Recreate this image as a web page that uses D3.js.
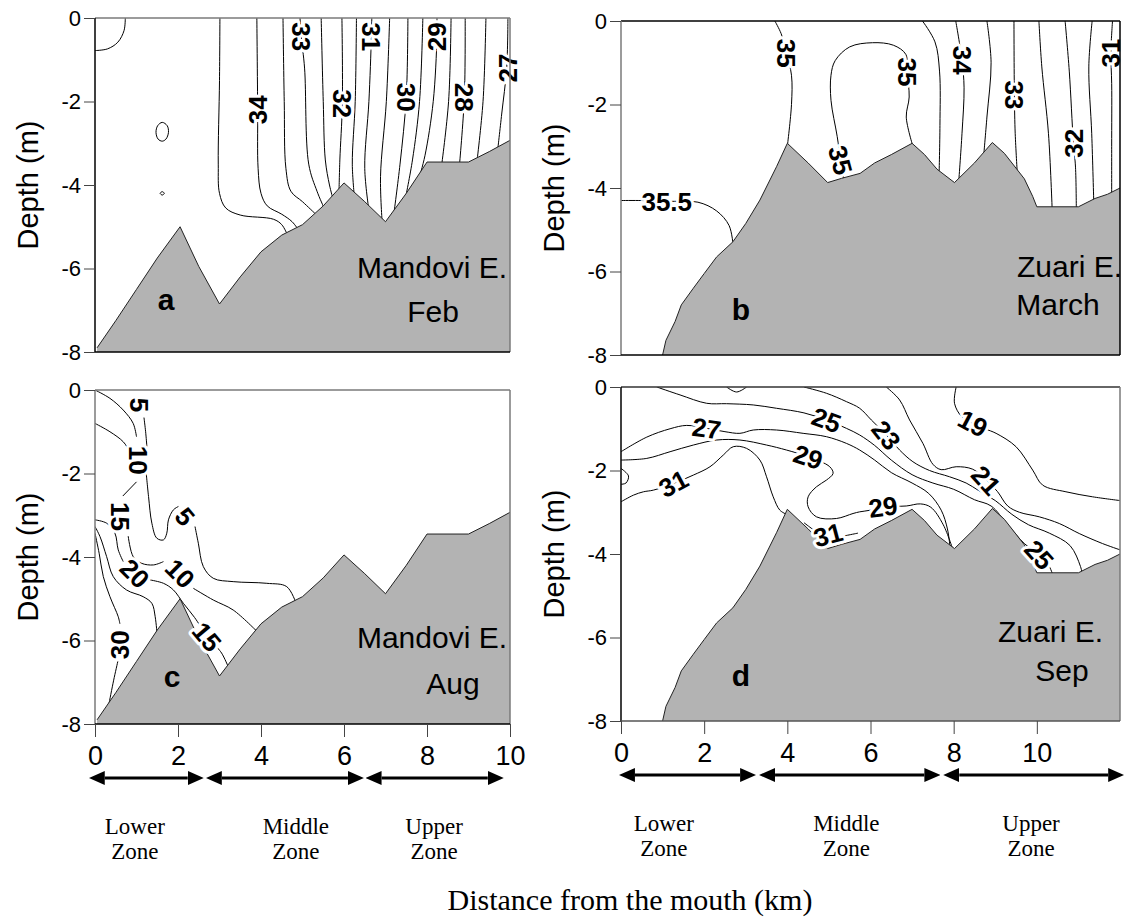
<!DOCTYPE html>
<html>
<head>
<meta charset="utf-8">
<script src="https://cdn.jsdelivr.net/npm/d3@7"></script>
<style>
  body { margin: 0; background: #fff; }
  svg { display: block; }
</style>
</head>
<body>
<svg width="1130" height="922"></svg>
<script>
// bottom profiles, [km from mouth, depth m]
var mandoviBed = [[0.05,-7.9],[0.5,-7.25],[1.0,-6.5],[1.5,-5.75],[2.05,-5.0],[2.5,-5.95],[3.0,-6.85],[3.5,-6.2],[4.0,-5.6],[4.5,-5.2],[5.0,-4.95],[5.5,-4.5],[6.0,-3.95],[6.5,-4.4],[7.0,-4.88],[7.5,-4.2],[8.0,-3.45],[9.0,-3.45],[9.5,-3.2],[10,-2.93]];
var zuariBed = [[1.0,-8],[1.08,-7.65],[1.3,-7.2],[1.45,-6.8],[1.74,-6.4],[2.0,-6.05],[2.3,-5.65],[2.69,-5.29],[3.0,-4.85],[3.34,-4.29],[3.74,-3.49],[4.0,-2.93],[4.5,-3.4],[4.97,-3.87],[5.3,-3.77],[5.75,-3.65],[6.1,-3.4],[6.5,-3.2],[7.0,-2.93],[7.3,-3.2],[7.6,-3.55],[8.02,-3.87],[8.5,-3.4],[8.93,-2.91],[9.22,-3.17],[9.7,-3.78],[9.9,-4.2],[10.0,-4.45],[11.0,-4.45],[11.4,-4.25],[11.7,-4.15],[12,-4.0]];

// isohalines
var febLines = [
  [[0.73,0],[0.7,-0.3],[0.55,-0.58],[0.3,-0.74],[0,-0.78]],
  [[3.01,0],[3.0,-1.5],[2.97,-3.5],[3.0,-4.2],[3.15,-4.55],[3.5,-4.72],[4.3,-4.82],[4.5,-4.95],[4.64,-5.2]],
  [[3.9,0],[3.92,-2.2],[3.93,-3.6],[4.0,-4.2],[4.15,-4.5],[4.5,-4.7],[4.75,-4.88],[4.92,-5.1]],
  [[4.53,0],[4.56,-2],[4.6,-3.6],[4.72,-4.15],[5.0,-4.4],[5.32,-4.7]],
  [[4.94,0],[4.97,-0.45],[5.05,-1.2],[5.15,-3.5],[5.35,-4.15],[5.52,-4.55]],
  [[5.45,0],[5.5,-2],[5.55,-3.4],[5.65,-4.0],[5.74,-4.35]],
  [[5.95,0],[5.96,-2.05],[5.9,-3.4],[5.88,-4.15]],
  [[6.3,0],[6.27,-2],[6.2,-3.5],[6.25,-4.28]],
  [[6.67,0],[6.66,-0.45],[6.6,-2],[6.5,-3.6],[6.6,-4.6]],
  [[7.1,0],[7.02,-2],[6.88,-3.8],[6.92,-4.9]],
  [[7.54,0],[7.5,-1.9],[7.35,-3.5],[7.2,-4.7]],
  [[7.9,0],[7.82,-2],[7.65,-3.4],[7.48,-4.32]],
  [[8.24,0],[8.24,-0.45],[8.15,-2],[7.95,-3.3],[7.8,-3.87]],
  [[8.58,0],[8.52,-2],[8.35,-3.55]],
  [[8.92,0],[8.9,-1.9],[8.78,-3.55]],
  [[9.42,0],[9.35,-2],[9.2,-3.47]],
  [[9.95,0],[9.92,-1.2],[9.8,-2.3],[9.7,-3.19]]
];
var febLoops = [
  [[1.62,-2.5],[1.74,-2.58],[1.77,-2.74],[1.71,-2.9],[1.62,-2.95],[1.52,-2.9],[1.47,-2.74],[1.51,-2.58]],
  [[1.57,-4.2],[1.62,-4.16],[1.67,-4.2],[1.62,-4.24]]
];
var febLabels = [["34",3.92,-2.2,-90],["33",4.97,-0.45,90],["32",5.96,-2.05,90],["31",6.66,-0.45,90],["30",7.5,-1.9,90],["29",8.24,-0.45,-90],["28",8.9,-1.9,90],["27",9.95,-1.2,-90]];

var marchLines = [
  [[3.7,0],[3.85,-0.3],[3.98,-0.77],[4.1,-1.3],[4.1,-2.0],[4.0,-3.0]],
  [[5.37,-3.9],[5.28,-3.33],[5.2,-2.77],[5.05,-1.9],[5.05,-1.3],[5.15,-0.95],[5.5,-0.62],[6.05,-0.52],[6.55,-0.58],[6.85,-0.8],[6.88,-1.22],[6.93,-1.82],[6.86,-2.3],[7.02,-3.0]],
  [[0,-4.3],[0.5,-4.3],[1.1,-4.32],[1.85,-4.34],[2.3,-4.55],[2.6,-4.9],[2.7,-5.4]],
  [[7.25,0],[7.55,-0.5],[7.66,-1.2],[7.67,-2.5],[7.65,-3.65]],
  [[8.05,0],[8.2,-0.94],[8.25,-1.6],[8.2,-2.7],[8.12,-3.87]],
  [[8.8,0],[8.9,-1.0],[8.8,-2.3],[8.72,-3.25]],
  [[9.45,0],[9.46,-1.77],[9.48,-2.7],[9.53,-3.65]],
  [[10.05,0],[10.12,-1.1],[10.28,-2.7],[10.37,-4.55]],
  [[10.68,0],[10.78,-1.2],[10.88,-2.93],[10.93,-3.5],[10.95,-4.55]],
  [[11.33,0],[11.25,-1.1],[11.32,-2.7],[11.37,-4.37]],
  [[11.82,0],[11.78,-0.77],[11.8,-1.5],[11.8,-3.0],[11.8,-4.23]]
];
var marchLabels = [["35",3.98,-0.77,90],["35",5.28,-3.33,75],["35",6.88,-1.22,90],["35.5",1.1,-4.32,0],["34",8.2,-0.94,90],["33",9.46,-1.77,90],["32",10.88,-2.93,-90],["31",11.78,-0.77,-90]];

var augLines = [
  [[0,0],[0.36,-0.2],[0.68,-0.48],[0.92,-0.8],[1.0,-1.12]],
  [[1.18,-0.66],[1.22,-1.0],[1.25,-1.35]],
  [[0,-0.8],[0.36,-1.0],[0.68,-1.24],[0.84,-1.48],[0.92,-1.64]],
  [[1.23,-1.95],[1.29,-2.55],[1.37,-3.19],[1.49,-3.55],[1.65,-3.59],[1.73,-3.43],[1.77,-3.11],[1.89,-2.87],[2.01,-2.79]],
  [[2.41,-3.27],[2.49,-3.67],[2.61,-4.23],[2.85,-4.51],[3.33,-4.59],[4.14,-4.63],[4.62,-4.71],[4.85,-5.12]],
  [[1.0,-2.2],[0.67,-2.54]],
  [[0.8,-3.5],[0.92,-3.99],[1.12,-4.15],[1.41,-4.19],[1.65,-4.11]],
  [[2.37,-4.75],[2.85,-5.03],[3.33,-5.27],[3.92,-5.8]],
  [[0,-3.11],[0.28,-3.19],[0.48,-3.43],[0.56,-3.83],[0.68,-4.11]],
  [[1.33,-4.55],[1.65,-4.63],[1.89,-4.79],[2.13,-5.11],[2.4,-5.45],[2.6,-5.75]],
  [[2.88,-6.1],[3.05,-6.3],[3.22,-6.65]],
  [[0,-3.27],[0.12,-3.51],[0.28,-3.99],[0.44,-4.47],[0.76,-4.79],[1.16,-4.95],[1.37,-5.11],[1.45,-5.43],[1.5,-5.9]],
  [[0,-3.43],[0.1,-3.91],[0.2,-4.47],[0.36,-4.95],[0.56,-5.43],[0.6,-5.6]],
  [[0.55,-6.5],[0.45,-6.95],[0.34,-7.5]]
];
var augLabels = [["5",1.08,-0.36,90],["10",1.04,-1.68,90],["15",0.6,-3.03,90],["5",2.17,-3.03,50],["20",0.96,-4.39,45],["10",2.05,-4.39,45],["15",2.7,-5.91,50],["30",0.6,-6.1,-90]];

var sepLines = [
  [[2.54,0],[2.78,-0.12],[3.02,0]],
  [[0.86,0],[1.42,-0.19],[2.06,-0.39],[2.54,-0.4],[3.18,-0.43],[3.74,-0.51],[4.4,-0.62],[4.94,-0.79],[5.42,-0.99],[5.74,-1.15],[6.1,-1.4],[6.5,-1.75],[7.0,-2.1],[7.5,-2.3],[8.0,-2.45],[8.5,-2.7],[8.9,-2.85],[9.3,-3.3],[9.7,-3.75],[10.06,-4.02],[10.3,-4.3],[10.4,-4.55]],
  [[0,-1.55],[0.62,-1.2],[1.18,-1.0],[1.58,-0.92],[2.06,-0.99],[2.5,-1.07],[2.86,-1.11],[3.18,-1.03],[3.74,-1.03],[4.38,-1.11],[4.94,-1.19],[5.42,-1.35],[5.74,-1.51],[6.1,-1.75],[6.5,-2.05],[7.0,-2.3],[7.4,-2.55],[7.7,-2.95],[7.85,-3.4],[7.92,-3.9]],
  [[0,-1.75],[0.62,-1.71],[1.18,-1.55],[1.74,-1.39],[2.3,-1.27],[2.86,-1.27],[3.5,-1.39],[3.98,-1.51],[4.5,-1.67],[5.02,-1.91],[5.1,-2.07],[4.94,-2.23],[4.7,-2.39],[4.5,-2.63],[4.5,-2.87],[4.7,-3.11],[5.18,-3.15],[5.58,-3.03],[5.74,-2.99],[6.0,-2.95],[6.3,-2.87],[6.86,-2.85],[7.2,-2.8],[7.45,-2.88],[7.75,-3.3],[8.0,-3.95]],
  [[0,-2.75],[0.3,-2.59],[0.54,-2.51],[0.78,-2.47],[1.26,-2.31],[1.74,-2.11],[2.14,-1.91],[2.46,-1.63],[2.7,-1.43],[3.02,-1.47],[3.34,-1.75],[3.5,-2.15],[3.66,-2.63],[3.82,-2.95],[3.98,-3.05]],
  [[4.4,-3.25],[4.6,-3.4],[4.75,-3.5]],
  [[5.2,-3.6],[5.45,-3.55],[5.7,-3.5]],
  [[0,-1.95],[0.18,-2.13],[0.12,-2.3],[0,-2.33]],
  [[4.4,0],[4.94,-0.15],[5.42,-0.35],[5.74,-0.51],[6.02,-0.79],[6.38,-1.15],[6.7,-1.51],[7.02,-1.79],[7.42,-2.0],[7.9,-2.15],[8.3,-2.3],[8.6,-2.48],[9.0,-2.72],[9.4,-3.05],[9.8,-3.3],[10.3,-3.5],[10.8,-3.8],[11.05,-4.3],[11.1,-4.52]],
  [[6.38,0],[6.7,-0.31],[6.94,-0.79],[7.26,-1.35],[7.5,-1.85],[7.7,-1.98],[8.06,-1.91],[8.46,-1.97],[8.78,-2.23],[9.05,-2.5],[9.3,-2.85],[9.58,-3.0],[10.06,-3.11],[10.54,-3.27],[11.02,-3.51],[11.58,-3.75],[12,-3.9]],
  [[8.06,0],[8.02,-0.39],[8.2,-0.72],[8.46,-0.87],[8.75,-1.0],[9.02,-1.11],[9.5,-1.43],[9.9,-1.99],[10.14,-2.35],[10.7,-2.51],[11.34,-2.63],[12,-2.72]]
];
var sepLabels = [["25",4.94,-0.79,20],["27",2.06,-0.99,8],["29",4.5,-1.67,18],["31",1.26,-2.31,-28],["31",4.98,-3.54,-15],["29",6.3,-2.87,-8],["23",6.38,-1.15,52],["21",8.78,-2.23,48],["19",8.46,-0.87,28],["25",10.06,-4.02,48]];

// zones along the estuary (km)
var zoneNames = ["Lower", "Middle", "Upper"];
var mandoviZones = [[-0.15,2.62],[2.67,6.48],[6.52,9.85]];
var mandoviZoneTextKm = [0.96, 4.84, 8.17];
var zuariZones = [[-0.05,3.25],[3.32,7.68],[7.75,12.1]];
var zuariZoneTextKm = [1.03, 5.42, 9.86];

var depthTicks = [0, -2, -4, -6, -8];
var kmTicks = [0, 2, 4, 6, 8, 10];

var sans = "'Liberation Sans', Arial, sans-serif",
    serif = "'Liberation Serif', 'Times New Roman', serif",
    grey = "#b3b3b3", frameGrey = "#7a7a7a";

var svg = d3.select("svg");

svg.append("defs").append("marker")
    .attr("id", "head")
    .attr("viewBox", "0 0 16 14")
    .attr("refX", 0).attr("refY", 7)
    .attr("markerWidth", 16).attr("markerHeight", 14)
    .attr("markerUnits", "userSpaceOnUse")
    .attr("orient", "auto-start-reverse")
  .append("path").attr("d", "M0,0L16,7L0,14Z").attr("fill", "#000");

var panels = [
  {id: "a", left: 95, top: 18, w: 415, h: 334, xMax: 10, bed: mandoviBed, lines: febLines, loops: febLoops, labels: febLabels,
   name: "Mandovi E.", nameX: 412, nameAnchor: "end", nameDy: 74, month: "Feb", monthX: 338, monthDy: 30, letter: "a", letterX: 71, letterDy: 42,
   frame: {top: frameGrey, right: frameGrey, left: "#000", bottom: "#000"}},
  {id: "b", left: 621, top: 21, w: 499, h: 334, xMax: 12, bed: zuariBed, lines: marchLines, loops: [], labels: marchLabels,
   name: "Zuari E.", nameX: 396, nameAnchor: "start", nameDy: 78, month: "March", monthX: 437, monthDy: 40, letter: "b", letterX: 120, letterDy: 35,
   frame: {top: "#000", right: "#000", left: frameGrey, bottom: "#000"}},
  {id: "c", left: 95, top: 390, w: 415, h: 334, xMax: 10, bed: mandoviBed, lines: augLines, loops: [], labels: augLabels,
   name: "Mandovi E.", nameX: 412, nameAnchor: "end", nameDy: 76, month: "Aug", monthX: 358, monthDy: 30, letter: "c", letterX: 77, letterDy: 37,
   frame: {top: frameGrey, right: frameGrey, left: frameGrey, bottom: "#000"},
   zones: mandoviZones, zoneText: mandoviZoneTextKm},
  {id: "d", left: 621, top: 387, w: 499, h: 334, xMax: 12, bed: zuariBed, lines: sepLines, loops: [], labels: sepLabels,
   name: "Zuari E.", nameX: 377, nameAnchor: "start", nameDy: 79, month: "Sep", monthX: 441, monthDy: 40, letter: "d", letterX: 120, letterDy: 35,
   frame: {top: "#333", right: frameGrey, left: "#000", bottom: "#555"},
   zones: zuariZones, zoneText: zuariZoneTextKm}
];

panels.forEach(function(p) {
    var x = d3.scaleLinear().domain([0, p.xMax]).range([0, p.w]),
        y = d3.scaleLinear().domain([0, -8]).range([0, p.h]);

    var g = svg.append("g")
        .attr("transform", "translate(" + p.left + "," + p.top + ")");

    g.append("clipPath").attr("id", "clip-" + p.id)
      .append("rect").attr("width", p.w).attr("height", p.h);

    var inner = g.append("g").attr("clip-path", "url(#clip-" + p.id + ")");

    var iso = d3.line()
        .x(function(d) { return x(d[0]); })
        .y(function(d) { return y(d[1]); })
        .curve(d3.curveCatmullRom.alpha(0.5));
    var loop = d3.line()
        .x(function(d) { return x(d[0]); })
        .y(function(d) { return y(d[1]); })
        .curve(d3.curveCatmullRomClosed.alpha(0.5));

    inner.selectAll(".iso")
        .data(p.lines)
        .enter().append("path")
            .attr("class", "iso")
            .attr("d", iso)
            .attr("fill", "none")
            .attr("stroke", "#000")
            .attr("stroke-width", 1);

    inner.selectAll(".loop")
        .data(p.loops)
        .enter().append("path")
            .attr("class", "loop")
            .attr("d", loop)
            .attr("fill", "none")
            .attr("stroke", "#000")
            .attr("stroke-width", 1);

    // river bed drawn over the lines so they stop at the bottom
    var bedArea = d3.area()
        .x(function(d) { return x(d[0]); })
        .y0(p.h)
        .y1(function(d) { return y(d[1]); });
    inner.append("path").datum(p.bed)
        .attr("d", bedArea)
        .attr("fill", grey);
    inner.append("path").datum(p.bed)
        .attr("d", d3.line().x(function(d) { return x(d[0]); }).y(function(d) { return y(d[1]); }))
        .attr("fill", "none")
        .attr("stroke", "#222")
        .attr("stroke-width", 1);

    g.selectAll(".lab")
        .data(p.labels)
        .enter().append("text")
            .attr("class", "lab")
            .attr("transform", function(d) { return "translate(" + x(d[1]) + "," + y(d[2]) + ") rotate(" + d[3] + ")"; })
            .attr("text-anchor", "middle")
            .attr("dy", "0.36em")
            .attr("font-family", sans)
            .attr("font-size", 26)
            .attr("font-weight", "bold")
            .attr("fill", "#000")
            .attr("stroke", "#fff")
            .attr("stroke-width", 6)
            .attr("stroke-linejoin", "round")
            .attr("paint-order", "stroke")
            .text(function(d) { return d[0]; });

    // frame
    var f = p.frame;
    g.append("line").attr("x1", 0).attr("x2", p.w).attr("y1", 0).attr("y2", 0).attr("stroke", f.top).attr("stroke-width", 1.5);
    g.append("line").attr("x1", p.w).attr("x2", p.w).attr("y1", 0).attr("y2", p.h).attr("stroke", f.right).attr("stroke-width", 1.5);
    g.append("line").attr("x1", 0).attr("x2", 0).attr("y1", 0).attr("y2", p.h).attr("stroke", f.left).attr("stroke-width", 1.5);
    g.append("line").attr("x1", 0).attr("x2", p.w).attr("y1", p.h).attr("y2", p.h).attr("stroke", f.bottom).attr("stroke-width", 1.5);

    var yAxis = d3.axisLeft(y)
        .tickValues(depthTicks)
        .tickSize(11)
        .tickPadding(3)
        .tickFormat(function(d) { return String(d); });
    var ya = g.append("g").call(yAxis);
    ya.select(".domain").remove();
    ya.attr("font-family", sans).attr("font-size", 22);
    ya.selectAll("line").attr("stroke", "#444");

    g.append("text")
        .attr("transform", "translate(-67," + (p.h / 2) + ") rotate(-90)")
        .attr("text-anchor", "middle")
        .attr("dy", "0.35em")
        .attr("font-family", sans)
        .attr("font-size", 29)
        .text("Depth (m)");

    g.append("text")
        .attr("x", p.nameX).attr("y", p.h - p.nameDy)
        .attr("text-anchor", p.nameAnchor)
        .attr("font-family", sans).attr("font-size", 30)
        .text(p.name);
    g.append("text")
        .attr("x", p.monthX).attr("y", p.h - p.monthDy)
        .attr("text-anchor", "middle")
        .attr("font-family", sans).attr("font-size", 30)
        .text(p.month);
    g.append("text")
        .attr("x", p.letterX).attr("y", p.h - p.letterDy)
        .attr("text-anchor", "middle")
        .attr("font-family", sans).attr("font-size", 30).attr("font-weight", "bold")
        .text(p.letter);

    if (p.zones) {
        var xAxis = d3.axisBottom(x)
            .tickValues(kmTicks)
            .tickSize(13)
            .tickPadding(9)
            .tickFormat(function(d) { return String(d); });
        var xa = g.append("g").attr("transform", "translate(0," + p.h + ")").call(xAxis);
        xa.select(".domain").remove();
        xa.attr("font-family", sans).attr("font-size", 27);
        xa.selectAll("line").attr("stroke", "#444");

        var ay = p.h + 54;
        g.selectAll(".zone")
            .data(p.zones)
            .enter().append("line")
                .attr("class", "zone")
                .attr("x1", function(d) { return x(d[0]) + 16; })
                .attr("x2", function(d) { return x(d[1]) - 16; })
                .attr("y1", ay).attr("y2", ay)
                .attr("stroke", "#000")
                .attr("stroke-width", 3)
                .attr("marker-start", "url(#head)")
                .attr("marker-end", "url(#head)");

        var zt = g.selectAll(".ztext")
            .data(p.zoneText)
            .enter().append("text")
                .attr("class", "ztext")
                .attr("text-anchor", "middle")
                .attr("font-family", serif)
                .attr("font-size", 23);
        zt.append("tspan")
            .attr("x", function(d) { return x(d); })
            .attr("y", p.h + 110)
            .text(function(d, i) { return zoneNames[i]; });
        zt.append("tspan")
            .attr("x", function(d) { return x(d); })
            .attr("y", p.h + 135)
            .text("Zone");
    }
});

svg.append("text")
    .attr("x", 630).attr("y", 910)
    .attr("text-anchor", "middle")
    .attr("font-family", serif)
    .attr("font-size", 30)
    .text("Distance from the mouth (km)");
</script>
</body>
</html>
